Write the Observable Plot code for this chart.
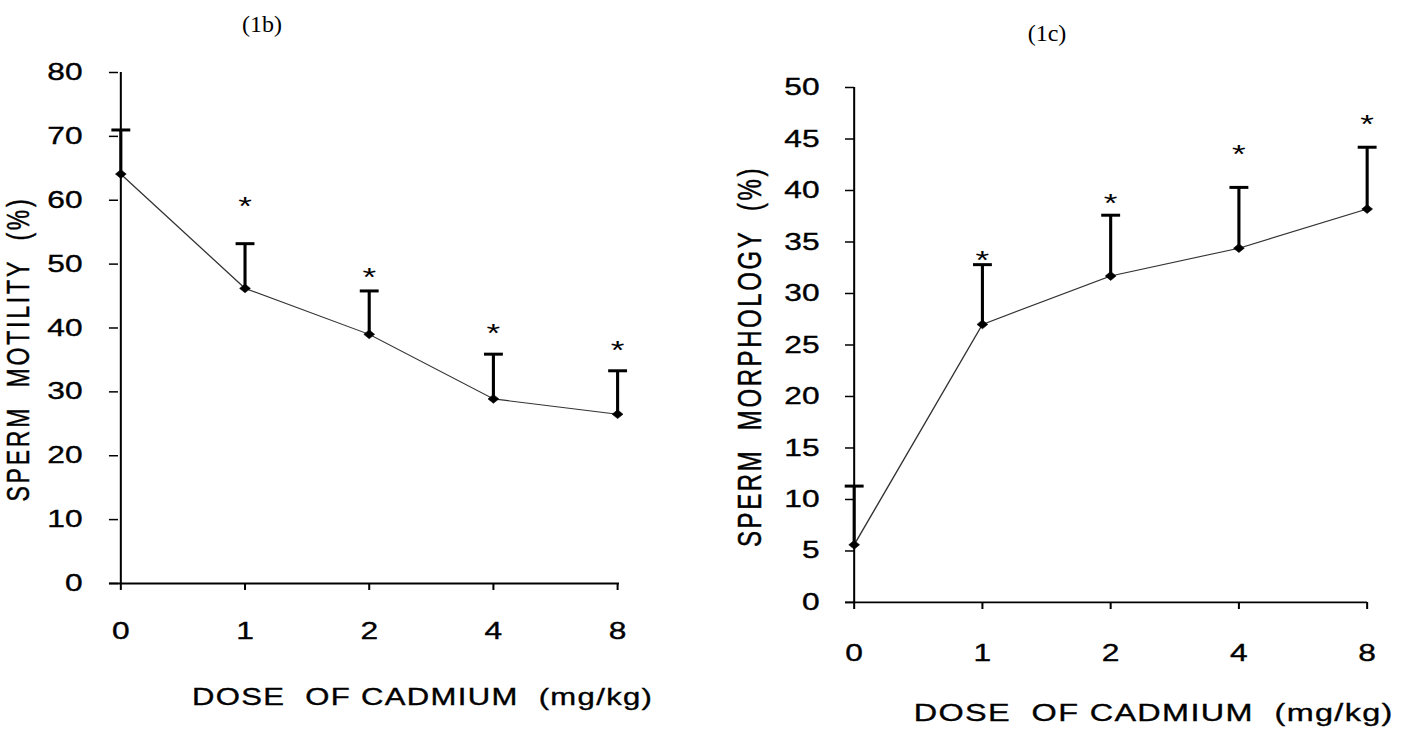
<!DOCTYPE html>
<html>
<head>
<meta charset="utf-8">
<script src="https://cdn.jsdelivr.net/npm/d3@7"></script>
<script src="https://cdn.jsdelivr.net/npm/@observablehq/plot@0.6"></script>
<style>
  html, body { margin: 0; padding: 0; background: #fff; }
  #page { position: relative; width: 1410px; height: 733px; overflow: hidden; background: #fff; }
  .panel { position: absolute; top: 0; transform-origin: 0 0; transform: scaleX(1.35); }
  .ptitle { position: absolute; font-family: "Liberation Serif", "Times New Roman", serif; font-size: 24px; color: #000; transform: translate(-50%, -50%); white-space: nowrap; }
  g[aria-label="x-axis tick label"] text,
  g[aria-label="y-axis tick label"] text { stroke: #000; stroke-width: 0.35px; }
  g[aria-description="xtitle"] text { letter-spacing: 1px; stroke: #000; stroke-width: 0.35px; }
  g[aria-description="ytitle-b"] text { letter-spacing: 2.8px; stroke: #000; stroke-width: 0.35px; }
  g[aria-description="ytitle-c"] text { letter-spacing: 2.6px; stroke: #000; stroke-width: 0.35px; }
</style>
</head>
<body>
<div id="page"></div>
<script>
// ---- data ----
const doses = ["0", "1", "2", "4", "8"];

const motility = [64.1, 46.2, 39.0, 28.9, 26.5];
const motilityErr = [6.9, 7.0, 6.8, 7.0, 6.8];
const motilityStars = [null, 60.1, 49.0, 40.2, 37.6];
const motilityTicks = [0, 10, 20, 30, 40, 50, 60, 70, 80];

const morphology = [5.6, 27.0, 31.7, 34.4, 38.2];
const morphologyErr = [5.7, 5.8, 5.9, 5.9, 6.0];
const morphologyStars = [null, 33.9, 39.4, 44.2, 47.1];
const morphologyTicks = [0, 5, 10, 15, 20, 25, 30, 35, 40, 45, 50];

const panelTitles = ["(1b)", "(1c)"];
const xTitle = "DOSE\u00a0 OF CADMIUM\u00a0 (mg/kg)";
const yTitles = ["SPERM\u00a0 MOTILITY\u00a0 (%)", "SPERM\u00a0 MORPHOLOGY\u00a0 (%)"];

// ---- symbols ----
const capSymbol = {
  draw(ctx, size) {
    const r = Math.sqrt(size / Math.PI);
    ctx.moveTo(-r, 0);
    ctx.lineTo(r, 0);
  }
};
const diamondSymbol = {
  draw(ctx, size) {
    const r = Math.sqrt(size / Math.PI);
    ctx.moveTo(0, -r * 1.1);
    ctx.lineTo(r, 0);
    ctx.lineTo(0, r * 1.1);
    ctx.lineTo(-r, 0);
    ctx.closePath();
  }
};

const FONT = '"Liberation Sans", Arial, Helvetica, sans-serif';

function makePanel(cfg) {
  const rows = doses.map((d, i) => ({
    dose: d,
    mean: cfg.values[i],
    upper: cfg.values[i] + cfg.errs[i],
    star: cfg.stars[i]
  }));
  return Plot.plot({
    width: cfg.width,
    height: 733,
    marginLeft: cfg.ml,
    marginRight: cfg.mr,
    marginTop: cfg.mt,
    marginBottom: cfg.mb,
    style: { fontFamily: FONT, color: "#000", background: "transparent", overflow: "visible" },
    x: { type: "point", domain: doses, padding: 0, label: null },
    y: { domain: [0, cfg.ymax], label: null },
    marks: [
      Plot.axisY(cfg.ticks, { tickSize: 6.7, tickPadding: cfg.yPad, fontSize: 23.5, strokeWidth: 1.5, label: null }),
      Plot.axisX({ tickSize: 7, tickPadding: cfg.xPad, fontSize: 23.5, strokeWidth: 1.5, label: null }),
      Plot.ruleY([0], { insetLeft: -6.7, stroke: "#000", strokeWidth: 1.8 }),
      Plot.ruleX([doses[0]], { y1: 0, y2: cfg.ymax, stroke: "#000", strokeWidth: 1.5 }),
      Plot.line(rows, { x: "dose", y: "mean", stroke: "#333", strokeWidth: 1.1 }),
      Plot.ruleX(rows, { x: "dose", y1: "mean", y2: "upper", stroke: "#000", strokeWidth: 2.3 }),
      Plot.dot(rows, { x: "dose", y: "upper", symbol: capSymbol, r: 7, fill: "none", stroke: "#000", strokeWidth: 3 }),
      Plot.dot(rows, { x: "dose", y: "mean", symbol: diamondSymbol, r: 4, fill: "#000", stroke: "#000", strokeWidth: 0.5 }),
      Plot.text(rows.filter(d => d.star != null), { x: "dose", y: "star", text: () => "*", fontSize: 26, dy: 7, fill: "#000" }),
      Plot.text([xTitle], { text: d => d, frameAnchor: "bottom", textAnchor: "middle", lineAnchor: "middle", dx: cfg.xtDx, dy: cfg.xtDy, fontSize: cfg.xtSize, fill: "#000", ariaDescription: "xtitle" }),
      Plot.text([cfg.yTitle], { text: d => d, frameAnchor: "left", textAnchor: "middle", lineAnchor: "middle", rotate: -90, dx: cfg.ytDx, dy: cfg.ytDy, fontSize: cfg.ytSize, fill: "#000", ariaDescription: cfg.ytAria })
    ]
  });
}

const page = document.getElementById("page");

const left = document.createElement("div");
left.className = "panel";
left.style.left = "0px";
left.appendChild(makePanel({
  values: motility, errs: motilityErr, stars: motilityStars, ticks: motilityTicks, ymax: 80,
  width: 522.2, ml: 87.4, mr: 63.7, mt: 72, mb: 150,
  yPad: 20, xPad: 31.5,
  xtDx: 39.6, xtDy: 114, xtSize: 23,
  yTitle: yTitles[0], ytDx: -73.5, ytDy: 21, ytSize: 23, ytAria: "ytitle-b"
}));
page.appendChild(left);

const right = document.createElement("div");
right.className = "panel";
right.style.left = "705px";
right.appendChild(makePanel({
  values: morphology, errs: morphologyErr, stars: morphologyStars, ticks: morphologyTicks, ymax: 50,
  width: 522.2, ml: 110.4, mr: 31.8, mt: 87, mb: 131,
  yPad: 19.3, xPad: 34.5,
  xtDx: 31.5, xtDy: 111, xtSize: 24,
  yTitle: yTitles[1], ytDx: -77, ytDy: 11.5, ytSize: 24, ytAria: "ytitle-c"
}));
page.appendChild(right);

const t1 = document.createElement("div");
t1.className = "ptitle";
t1.style.left = "262px"; t1.style.top = "24px";
t1.textContent = panelTitles[0];
page.appendChild(t1);

const t2 = document.createElement("div");
t2.className = "ptitle";
t2.style.left = "1047px"; t2.style.top = "33px";
t2.textContent = panelTitles[1];
page.appendChild(t2);
</script>
</body>
</html>
